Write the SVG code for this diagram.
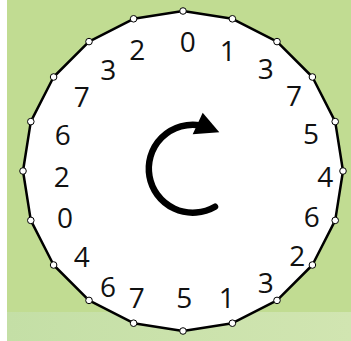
<svg xmlns="http://www.w3.org/2000/svg" width="351" height="341" viewBox="0 0 351 341">
<defs>
<linearGradient id="band" x1="0" y1="0" x2="1" y2="0">
<stop offset="0" stop-color="#c4dfa6"/>
<stop offset="1" stop-color="#d1e5b1"/>
</linearGradient>
</defs>
<style>
.n{font-family:"Open Sans","DejaVu Sans",sans-serif;font-size:28px;fill:#111;text-anchor:middle}
.v{fill:#fff;stroke:#000;stroke-width:1}
</style>
<rect x="0" y="0" width="351" height="341" fill="#fff"/>
<rect x="7" y="0" width="344" height="341" fill="#c1dc92"/>
<rect x="7" y="312" width="344" height="29" fill="url(#band)"/>
<g id="wheel">
<polygon points="183,11 232.4,18.8 277,41.6 312.4,77 335.2,121.6 343,171 335.2,220.4 312.4,265 277,300.4 232.4,323.2 183,331 133.6,323.2 89,300.4 53.6,265 30.8,220.4 23,171 30.8,121.6 53.6,77 89,41.6 133.6,18.8" fill="#fff" stroke="#000" stroke-width="2.5" stroke-linejoin="round"/>
</g>
<g id="vertices">
<circle class="v" cx="183" cy="11" r="3.3"/>
<circle class="v" cx="232.4" cy="18.8" r="3.3"/>
<circle class="v" cx="277" cy="41.6" r="3.3"/>
<circle class="v" cx="312.4" cy="77" r="3.3"/>
<circle class="v" cx="335.2" cy="121.6" r="3.3"/>
<circle class="v" cx="343" cy="171" r="3.3"/>
<circle class="v" cx="335.2" cy="220.4" r="3.3"/>
<circle class="v" cx="312.4" cy="265" r="3.3"/>
<circle class="v" cx="277" cy="300.4" r="3.3"/>
<circle class="v" cx="232.4" cy="323.2" r="3.3"/>
<circle class="v" cx="183" cy="331" r="3.3"/>
<circle class="v" cx="133.6" cy="323.2" r="3.3"/>
<circle class="v" cx="89" cy="300.4" r="3.3"/>
<circle class="v" cx="53.6" cy="265" r="3.3"/>
<circle class="v" cx="30.8" cy="220.4" r="3.3"/>
<circle class="v" cx="23" cy="171" r="3.3"/>
<circle class="v" cx="30.8" cy="121.6" r="3.3"/>
<circle class="v" cx="53.6" cy="77" r="3.3"/>
<circle class="v" cx="89" cy="41.6" r="3.3"/>
<circle class="v" cx="133.6" cy="18.8" r="3.3"/>
</g>
<g id="labels">
<text class="n" x="187.7" y="51.7">0</text>
<text class="n" x="227.7" y="60.7">1</text>
<text class="n" x="265.7" y="79">3</text>
<text class="n" x="294" y="106">7</text>
<text class="n" x="311" y="144">5</text>
<text class="n" x="325.3" y="187.3">4</text>
<text class="n" x="311.7" y="227.3">6</text>
<text class="n" x="297.3" y="265.7">2</text>
<text class="n" x="265.7" y="293.3">3</text>
<text class="n" x="226.7" y="308.3">1</text>
<text class="n" x="184.3" y="308.3">5</text>
<text class="n" x="136.7" y="308.3">7</text>
<text class="n" x="108" y="296.7">6</text>
<text class="n" x="81.7" y="266.7">4</text>
<text class="n" x="65" y="228.3">0</text>
<text class="n" x="61.7" y="186.7">2</text>
<text class="n" x="62.7" y="145">6</text>
<text class="n" x="81.7" y="106.7">7</text>
<text class="n" x="108.3" y="80">3</text>
<text class="n" x="137.3" y="60">2</text>
</g>
<g id="arrow">
<path d="M 215,206.7 A 44 44 0 1 1 200.6,125.4" fill="none" stroke="#000" stroke-width="6.5" stroke-linecap="round"/>
<polygon points="202.7,112.7 219.3,132.3 192.7,134.3" fill="#000"/>
</g>
</svg>
